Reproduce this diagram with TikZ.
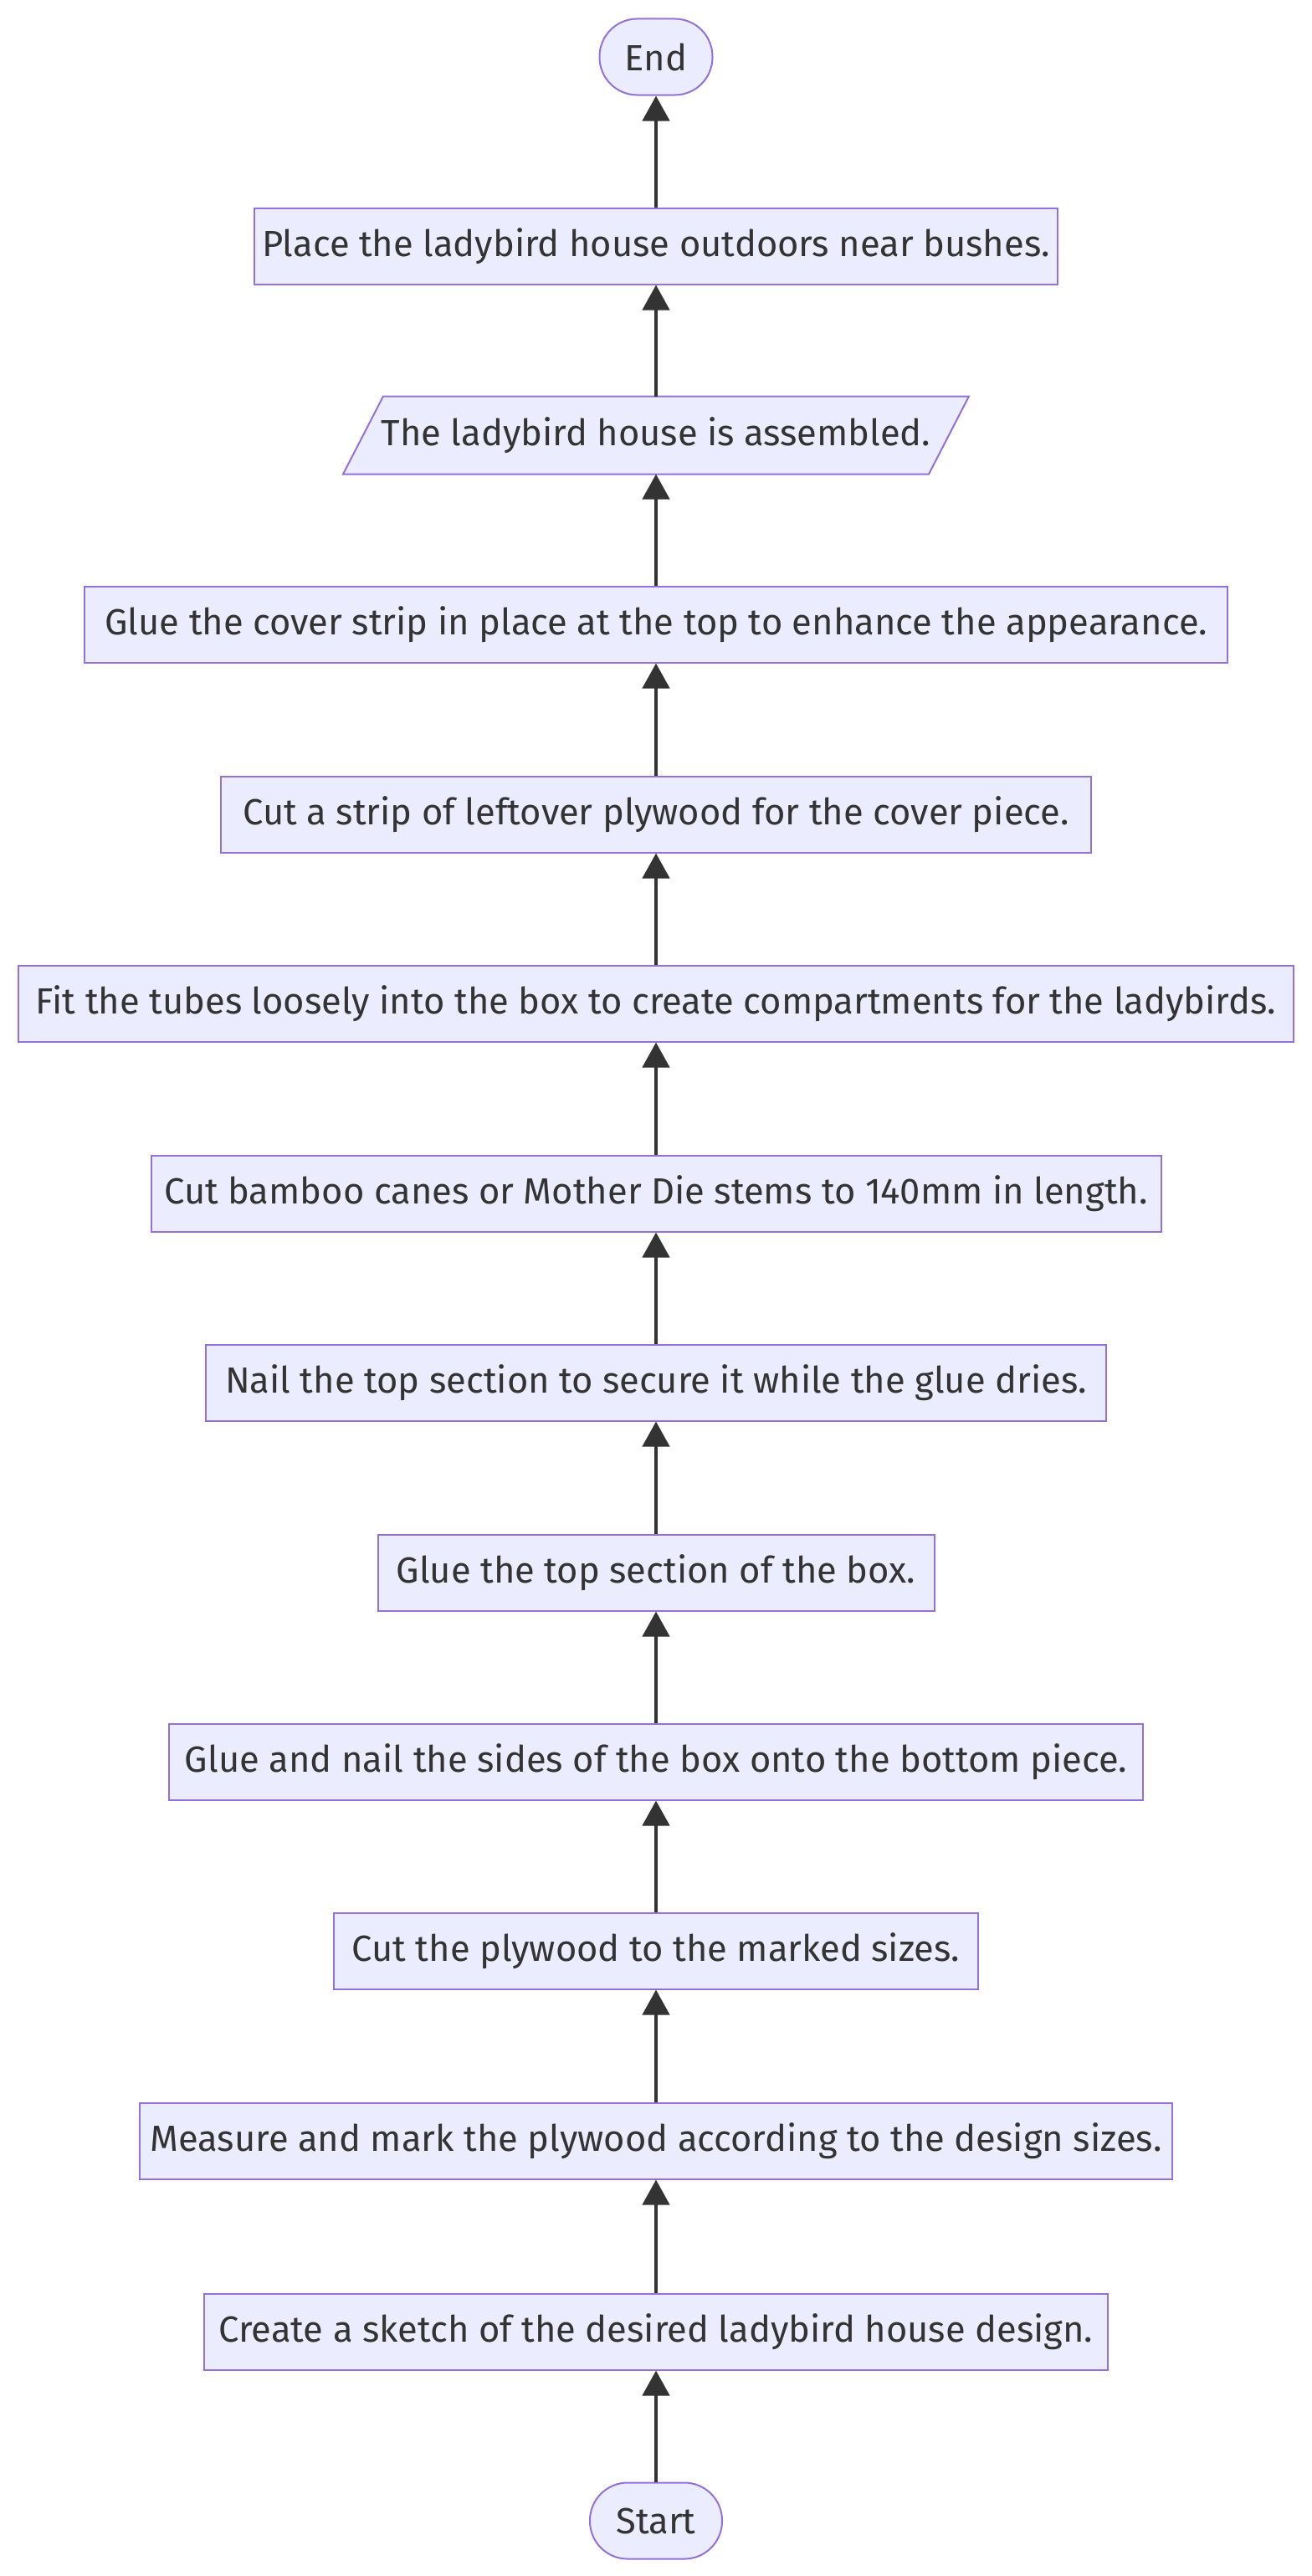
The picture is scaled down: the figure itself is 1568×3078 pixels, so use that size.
\documentclass[tikz,border=0pt]{standalone}
\usepackage{fontspec}
\setmainfont{Fira Sans}
\usetikzlibrary{arrows.meta,calc}
\definecolor{nodefill}{HTML}{ECECFF}
\definecolor{nodeline}{HTML}{9370DB}
\definecolor{ink}{HTML}{333333}
\tikzset{
  stepbox/.style={draw=nodeline, fill=nodefill, line width=2pt, minimum height=91pt, inner sep=0pt, text=ink, font=\fontsize{43.5}{50}\selectfont},
  termbox/.style={stepbox, rounded corners=45pt},
  ioshape/.style={stepbox, draw=none, fill=none},
  flow/.style={draw=ink, line width=4.5pt, -{Triangle[width=32pt,length=30pt]}}
}
\begin{document}
\begin{tikzpicture}[x=1pt,y=-1pt]
\useasboundingbox (0,0) rectangle (1568,3078);
\node[termbox, minimum width=135pt] (finish) at (784,68) {End};
\node[stepbox, minimum width=960pt] (place) at (784,294) {Place the ladybird house outdoors near bushes.};
\node[ioshape, minimum width=698pt] (asm) at (784,520) {The ladybird house is assembled.};
\filldraw[draw=nodeline, fill=nodefill, line width=2pt]
  ($(asm.north west)+(24,0)$) -- ($(asm.north east)+(24,0)$) -- ($(asm.south east)+(-24,0)$) -- ($(asm.south west)+(-24,0)$) -- cycle;
\node[ioshape, minimum width=698pt] at (asm) {The ladybird house is assembled.};
\node[stepbox, minimum width=1366pt] (cover) at (784,746) {Glue the cover strip in place at the top to enhance the appearance.};
\node[stepbox, minimum width=1040pt] (strip) at (784,973) {Cut a strip of leftover plywood for the cover piece.};
\node[stepbox, minimum width=1524pt] (tubes) at (784,1199) {Fit the tubes loosely into the box to create compartments for the ladybirds.};
\node[stepbox, minimum width=1207pt] (bamboo) at (784,1426) {Cut bamboo canes or Mother Die stems to 140mm in length.};
\node[stepbox, minimum width=1076pt] (nail) at (784,1652) {Nail the top section to secure it while the glue dries.};
\node[stepbox, minimum width=665pt] (gluetop) at (784,1879) {Glue the top section of the box.};
\node[stepbox, minimum width=1164pt] (sides) at (784,2105) {Glue and nail the sides of the box onto the bottom piece.};
\node[stepbox, minimum width=770pt] (cut) at (784,2331) {Cut the plywood to the marked sizes.};
\node[stepbox, minimum width=1234pt] (measure) at (784,2558) {Measure and mark the plywood according to the design sizes.};
\node[stepbox, minimum width=1080pt] (sketch) at (784,2786) {Create a sketch of the desired ladybird house design.};
\node[termbox, minimum width=158pt] (begin) at (784,3012) {Start};
\draw[flow] (begin) -- (sketch);
\draw[flow] (sketch) -- (measure);
\draw[flow] (measure) -- (cut);
\draw[flow] (cut) -- (sides);
\draw[flow] (sides) -- (gluetop);
\draw[flow] (gluetop) -- (nail);
\draw[flow] (nail) -- (bamboo);
\draw[flow] (bamboo) -- (tubes);
\draw[flow] (tubes) -- (strip);
\draw[flow] (strip) -- (cover);
\draw[flow] (cover) -- (asm);
\draw[flow] (asm) -- (place);
\draw[flow] (place) -- (finish);
\end{tikzpicture}
\end{document}
